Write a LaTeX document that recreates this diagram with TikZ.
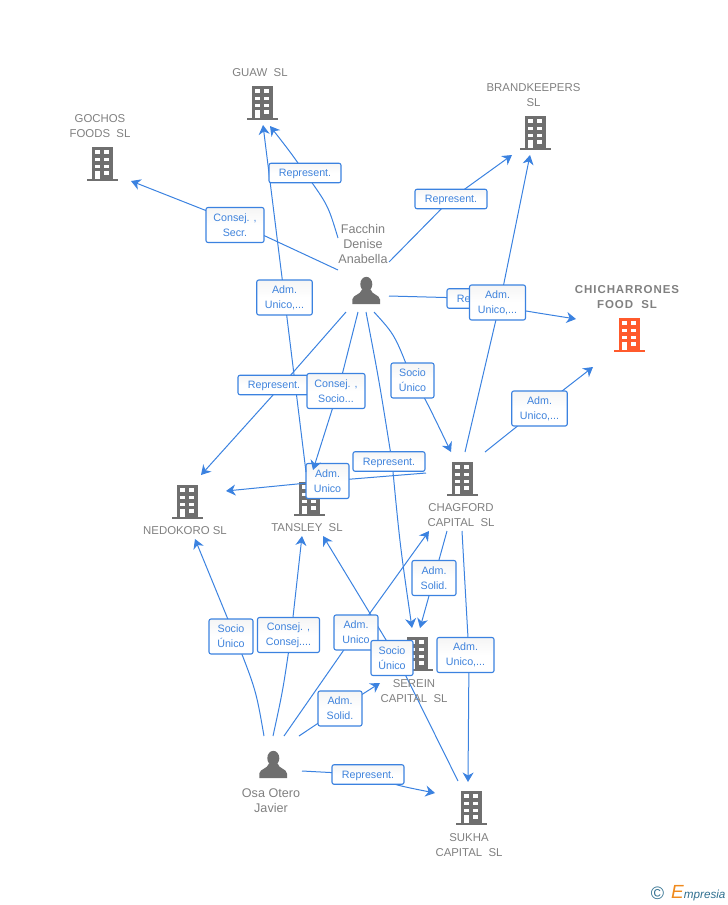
\documentclass[tikz,border=0pt]{standalone}
\usepackage{fontspec}
\setmainfont{Liberation Sans}
\usetikzlibrary{arrows.meta}
\definecolor{linkblue}{HTML}{3B82E0}
\definecolor{labtext}{HTML}{3F83DC}
\definecolor{icongray}{HTML}{6F6F6F}
\definecolor{textgray}{HTML}{808080}
\definecolor{hotorange}{HTML}{FF5A2C}
\definecolor{logoblue}{HTML}{2F6F8F}
\definecolor{logoorange}{HTML}{F08A1D}
\pgfdeclarelayer{links}
\pgfdeclarelayer{lowlab}
\pgfdeclarelayer{midlinks}
\pgfsetlayers{links,lowlab,midlinks,main}
\tikzset{
  x=1pt,y=-1pt,
  link/.style={draw=linkblue,line width=1pt},
  arr/.style={link,-{Stealth[length=9.5pt,width=11pt,inset=3pt]}},
  lab/.style={draw=linkblue,line width=1.1pt,rounded corners=2pt,top color=black!4,bottom color=white,middle color=white,
     inner sep=0pt,align=center,text=labtext,font=\fontsize{10.7}{15}\selectfont,minimum height=35pt,
     execute at begin node={\rule{0pt}{10pt}}},
  labw/.style={lab,minimum width=#1},
  labr/.style={lab,minimum width=72pt,minimum height=19.5pt},
  nm/.style={inner sep=0pt,align=center,text=textgray,font=\fontsize{11.4}{15}\selectfont,yshift=-0.8pt},
  nmb/.style={nm,font=\fontsize{11.5}{15}\selectfont\bfseries\addfontfeature{LetterSpace=8}},
  pn/.style={nm,font=\fontsize{12.6}{15}\selectfont},
  hub/.style={inner sep=0pt,minimum size=0pt},
  bldg/.pic={
    \fill[pic actions] (-10.5,-17.5) rectangle (10.5,15);
    \fill[pic actions] (-15.5,15) rectangle (15.5,17);
    \foreach \wx in {-7,2} \foreach \wy in {-14,-6.5,0.5}
      \fill[white] (\wx,\wy) rectangle (\wx+4.6,\wy+3.6);
    \fill[white] (-7,7) rectangle (-2.4,15);
    \fill[white] (2,7) rectangle (6.6,10.6);
  },
  person/.pic={
    \fill[pic actions] (0.3,-6.8) ellipse (6 and 7.4);
    \fill[pic actions] (-13.7,13) -- (-13.7,8.5) .. controls (-13,3.5) and (-5.5,4) .. (-4,-1.5) -- (4.6,-1.5) .. controls (6,4) and (13.5,3.5) .. (14,8.5) -- (14,13) -- cycle;
  }
}
\begin{document}
\begin{tikzpicture}
\useasboundingbox (0,0) rectangle (728,905);
% hubs
\node[hub] (guaw) at (262,103) {};
\node[hub] (gocho) at (102,164) {};
\node[hub] (brand) at (535,133) {};
\node[hub] (chich) at (629,335) {};
\node[hub] (nedo) at (187,502) {};
\node[hub] (tans) at (309,499) {};
\node[hub] (chag) at (462,479) {};
\node[hub] (serein) at (417,654) {};
\node[hub] (sukha) at (471,808) {};
\node[hub] (fac) at (366,291) {};
\node[hub] (osa) at (273,765) {};
% icons
\begin{pgfonlayer}{links}
\foreach \b in {guaw,gocho,brand,nedo,tans,chag,serein,sukha} \pic[fill=icongray] at (\b) {bldg};
\pic[fill=hotorange] at (chich) {bldg};
\pic[fill=icongray] at (fac) {person};
\pic[fill=icongray] at (osa) {person};
\end{pgfonlayer}
% names
\node[nm] (tguaw) at (260,72) {GUAW\ \ SL};
\node[nm] (tgocho) at (100,125.5) {GOCHOS\\FOODS\ \ SL};
\node[nm] (tbrand) at (533.5,94.5) {BRANDKEEPERS\\SL};
\node[nmb] (tchich) at (627,296.5) {CHICHARRONES\\FOOD\ \ SL};
\node[nm] (tnedo) at (185,530) {NEDOKORO SL};
\node[nm] (ttans) at (307,527) {TANSLEY\ \ SL};
\node[nm] (tchag) at (461,514.5) {CHAGFORD\\CAPITAL\ \ SL};
\node[nm] (tserein) at (414,690.5) {SEREIN\\CAPITAL\ \ SL};
\node[nm] (tsukha) at (469,844.5) {SUKHA\\CAPITAL\ \ SL};
\node[pn] (tfac) at (363,243) {Facchin\\Denise\\Anabella};
\node[pn] (tosa) at (271,799.5) {Osa Otero\\Javier};
% labels, in stacking order
\node[labr] (l1) at (305,173) {Represent.};
\node[labw=58pt] (l2) at (235,225) {Consej. ,\\Secr.};
\node[labw=55.5pt] (l3) at (284.5,297.5) {Adm.\\Unico,...};
\node[labr] (l4) at (451,199) {Represent.};
\node[labr] (l5) at (483,298.5) {Represent.};
\node[labw=56pt] (l6) at (497.5,302.5) {Adm.\\Unico,...};
\node[labw=55.5pt] (l7) at (539.5,408.5) {Adm.\\Unico,...};
\node[labr] (l8) at (274,385) {Represent.};
\node[labw=58pt] (l9) at (336,391) {Consej. ,\\Socio...};
\node[labw=43pt] (l10) at (412.5,380.5) {Socio\\Único};
\node[labr] (l11) at (389,461.5) {Represent.};
\begin{pgfonlayer}{lowlab}
\node[labw=43pt] (l12) at (327.5,481) {Adm.\\Unico};
\end{pgfonlayer}
\node[labw=44pt] (l13) at (434,578) {Adm.\\Solid.};
\node[labw=57pt] (l14) at (465.5,655) {Adm.\\Unico,...};
\node[labw=44pt] (l15) at (231,636.5) {Socio\\Único};
\node[labw=62pt] (l16) at (288.5,635) {Consej. ,\\Consej....};
\node[labw=44pt] (l17) at (356,632.5) {Adm.\\Unico};
\node[labw=44pt] (l18) at (340,708.5) {Adm.\\Solid.};
\node[labr] (l19) at (368,774.5) {Represent.};
\node[labw=42pt] (l20) at (392,658) {Socio\\Único};
% connectors above the low label
\begin{pgfonlayer}{midlinks}
\draw[arr] ([shift={(-3,-27)}]tans.center) -- (l3.center) -- ([shift={(1,22)}]guaw.center);
\draw[arr] ([shift={(-8,21)}]fac.center) -- ([xshift=2pt]l9.center) -- ([shift={(4,-29)}]tans.center);
\end{pgfonlayer}
% connectors
\begin{pgfonlayer}{links}
\draw[arr] ([shift={(-28,-21)}]fac.center) -- ([yshift=3pt]l2.center) -- ([shift={(29,17)}]gocho.center);
\draw[arr] ([shift={(-28,-53)}]fac.center) .. controls (328,205) .. (l1.center) .. controls (291,153) .. ([shift={(8,23)}]guaw.center);
\draw[arr] ([shift={(23,-29)}]fac.center) -- (l4.center) -- ([shift={(-23,22)}]brand.center);
\draw[arr] ([shift={(3,-27)}]chag.center) -- ([xshift=2.5pt]l6.center) -- ([shift={(-5,22)}]brand.center);
\draw[arr] ([shift={(23,5)}]fac.center) -- (l5.center) .. controls (500,307) .. ([shift={(-53,-16)}]chich.center);
\draw[arr] ([shift={(23,-27)}]chag.center) -- (l7.center) -- ([shift={(-36,32)}]chich.center);
\draw[arr] ([shift={(-20,21)}]fac.center) -- ([xshift=8pt]l8.center) -- ([shift={(14,-27)}]nedo.center);
\draw[arr] ([shift={(8,21)}]fac.center) .. controls (395,335) .. (l10.center) .. controls (423,394) .. ([shift={(-11,-27)}]chag.center);
\draw[arr] ([shift={(0,21)}]fac.center) .. controls (379,380) .. ([xshift=3pt]l11.center) .. controls (400,545) .. ([shift={(-5,-26)}]serein.center);
\draw[arr] ([shift={(-36,-6)}]chag.center) -- (l12.center) -- ([shift={(39,-11)}]nedo.center);
\draw[arr] ([shift={(-15,52)}]chag.center) -- (l13.center) -- ([shift={(3,-26)}]serein.center);
\draw[arr] ([shift={(0,52)}]chag.center) .. controls (465,585) .. ([xshift=3.5pt]l14.center) -- ([shift={(-3,-26)}]sukha.center);
\draw[arr] ([shift={(-9,-29)}]osa.center) .. controls (256,690) .. ([xshift=4pt]l15.center) -- ([shift={(8,37)}]nedo.center);
\draw[arr] ([shift={(0,-29)}]osa.center) .. controls (283,690) .. ([xshift=2.5pt]l16.center) -- ([shift={(-7,37)}]tans.center);
\draw[arr] ([shift={(11,-29)}]osa.center) -- (l17.center) -- ([shift={(-33,52)}]chag.center);
\draw[arr] ([shift={(26,-29)}]osa.center) -- (l18.center) -- ([shift={(-37,29)}]serein.center);
\draw[arr] ([shift={(29,6)}]osa.center) -- (l19.center) .. controls (395,785) .. ([shift={(-36,-15)}]sukha.center);
\draw[arr] ([shift={(-13,-27)}]sukha.center) -- ([xshift=5pt]l20.center) -- ([shift={(14,37)}]tans.center);
\end{pgfonlayer}
% logo
\node[inner sep=0pt,text=logoblue,font=\fontsize{18}{18}\selectfont] (logoc) at (657.5,893.5) {©};
\node[inner sep=0pt,anchor=base west,font=\fontsize{11.7}{12}\selectfont\itshape] (logot) at (671,898.5) {\textcolor{logoorange}{\fontsize{19}{19}\selectfont E}\textcolor{logoblue}{mpresia}};
\end{tikzpicture}
\end{document}
